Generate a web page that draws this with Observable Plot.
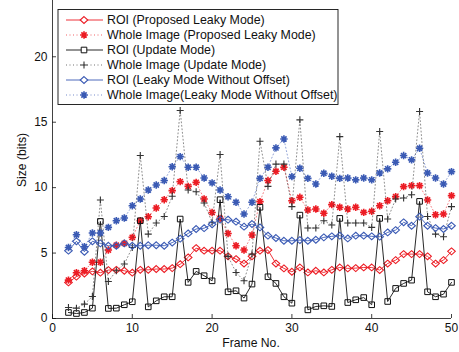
<!DOCTYPE html>
<html><head><meta charset="utf-8">
<script src="https://cdn.jsdelivr.net/npm/d3@7"></script>
<script src="https://cdn.jsdelivr.net/npm/@observablehq/plot@0.6"></script>
<style>
html,body{margin:0;padding:0;background:#fff}
svg{font-family: Arial, "Liberation Sans", Helvetica, sans-serif}
</style>
</head><body><div id="chart"></div>
<script>
const frames = d3.range(2, 51);
const xTicks = [0, 10, 20, 30, 40, 50];
const yTicks = [0, 5, 10, 15, 20];
const roiLeaky = [2.76,3.2,3.44,3.6,3.5,3.7,3.72,3.65,3.5,3.72,3.72,3.78,3.78,3.85,4.15,4.67,5.38,5.18,5.18,5.18,4.75,4.54,4.2,4.75,5.18,5.23,4.2,3.83,3.57,3.9,3.52,3.65,3.52,3.72,3.9,3.83,3.85,3.9,3.9,3.7,4.2,4.46,4.92,4.92,4.92,4.75,4.2,4.46,5.13];
const wholeLeaky = [2.93,3.5,3.65,4.3,4.3,5.23,5.6,5.74,6.2,7.47,7.78,8.44,9.08,9.77,10.46,10.1,10.4,9.13,8.1,7.65,6.5,5.56,5.23,6.38,8.93,10.54,11.25,11.56,9.0,9.26,8.29,8.37,8.04,8.7,8.5,8.37,8.5,8.11,8.19,8.62,9.0,9.31,10.08,10.15,10.15,9.06,7.93,7.98,9.39];
const roiUpdate = [0.46,0.38,0.46,0.79,7.42,0.77,0.79,1.05,1.28,7.47,0.89,1.35,1.66,1.66,7.6,2.76,3.6,3.27,2.88,9.08,2.04,2.12,1.56,2.63,8.5,3.19,2.68,1.66,1.17,7.9,0.66,0.92,0.97,0.92,7.65,1.22,1.43,1.6,1.05,7.65,1.3,2.3,2.68,2.93,8.95,2.04,1.66,1.86,2.76];
const wholeUpdate = [0.84,0.79,1.1,1.68,9.06,2.83,3.65,4.16,5.43,12.45,6.45,7.3,7.8,9.34,15.9,9.82,9.69,8.83,7.35,12.53,4.75,3.52,2.88,4.92,13.55,10.1,11.8,11.8,8.55,15.18,6.91,6.91,7.47,7.14,13.9,7.3,7.3,7.3,6.96,14.29,7.6,9.13,9.21,9.46,15.82,7.8,6.45,6.25,8.55];
const roiNoOffset = [5.18,5.9,5.1,5.9,5.74,5.56,5.56,5.74,5.56,5.56,5.6,5.6,5.56,5.8,6.1,6.5,6.84,6.9,7.2,7.55,7.55,7.4,7.02,7.22,6.96,6.33,6.15,5.94,5.94,5.99,5.94,6.02,6.2,6.28,6.33,6.12,6.33,6.33,6.28,6.25,6.58,6.76,7.35,7.09,7.78,7.09,6.91,6.84,7.09];
const wholeNoOffset = [5.43,6.4,5.48,6.53,6.53,6.96,7.47,7.68,8.62,9.13,9.82,10.2,10.54,11.6,12.37,11.56,11.56,10.74,10.36,9.82,9.3,8.88,7.98,8.88,10.71,11.56,13.04,13.72,10.84,11.48,10.71,10.28,11.1,10.87,10.71,10.74,10.59,10.74,10.59,11.12,11.43,11.94,12.45,12.12,13.01,11.12,10.74,10.28,11.22];
const seriesNames = [
  "ROI (Proposed Leaky Mode)",
  "Whole Image (Proposed Leaky Mode)",
  "ROI (Update Mode)",
  "Whole Image (Update Mode)",
  "ROI (Leaky Mode Without Offset)",
  "Whole Image(Leaky Mode Without Offset)"
];

const RED = "#ec1c24", BLUE = "#3a5ab4", BLACK = "#111111";

const radius = s => Math.sqrt(s / Math.PI);
const asterisk = {draw(c, s) { const r = radius(s), d = r * Math.SQRT1_2;
  c.moveTo(-r, 0); c.lineTo(r, 0); c.moveTo(0, -r); c.lineTo(0, r);
  c.moveTo(-d, -d); c.lineTo(d, d); c.moveTo(-d, d); c.lineTo(d, -d); }};
const plus = {draw(c, s) { const r = radius(s);
  c.moveTo(-r, 0); c.lineTo(r, 0); c.moveTo(0, -r); c.lineTo(0, r); }};
const diamond = {draw(c, s) { const r = radius(s), h = r * 0.9;
  c.moveTo(0, -h); c.lineTo(r, 0); c.lineTo(0, h); c.lineTo(-r, 0); c.closePath(); }};
const square = {draw(c, s) { const r = radius(s) * 0.8; c.rect(-r, -r, 2 * r, 2 * r); }};

const series = [
  {values: roiLeaky, color: RED, dash: null, symbol: diamond, r: 3.8, sw: 1.1, lw: 0.9},
  {values: wholeLeaky, color: RED, dash: "1,2.5", symbol: asterisk, r: 3.7, sw: 1.6, lw: 0.7},
  {values: roiUpdate, color: BLACK, dash: null, symbol: square, r: 3.5, sw: 1.0, lw: 0.9},
  {values: wholeUpdate, color: "#333", dash: "1,2.5", symbol: plus, r: 3.5, sw: 1.1, lw: 0.7},
  {values: roiNoOffset, color: BLUE, dash: null, symbol: diamond, r: 3.8, sw: 1.1, lw: 0.9},
  {values: wholeNoOffset, color: BLUE, dash: "1,2.5", symbol: asterisk, r: 3.7, sw: 1.6, lw: 0.7}
];
series.forEach((s, i) => { s.name = seriesNames[i]; s.data = frames.map((f, j) => ({frame: f, size: s.values[j]})); });

const marks = [];
for (const s of series) {
  marks.push(Plot.line(s.data, {x: "frame", y: "size", stroke: s.color, strokeWidth: s.lw, strokeDasharray: s.dash, strokeOpacity: s.dash ? 0.8 : 1}));
  marks.push(Plot.dot(s.data, {x: "frame", y: "size", symbol: s.symbol, r: s.r, stroke: s.color, fill: "none", strokeWidth: s.sw}));
}

const plot = Plot.plot({
  width: 459,
  height: 352,
  marginLeft: 52,
  marginRight: 8,
  marginTop: 0,
  marginBottom: 34,
  style: {fontSize: "12px", fontFamily: "Arial, 'Liberation Sans', Helvetica, sans-serif", color: "#111"},
  x: {domain: [0, 50], label: null},
  y: {domain: [0, 24.3], label: null},
  marks: [
    Plot.axisX({ticks: xTicks, tickSize: 0, tickPadding: 5, label: null, fill: "#111"}),
    Plot.axisY({ticks: yTicks, tickSize: 0, tickPadding: 5, label: null, fill: "#111"}),
    Plot.tickX(xTicks, {x: d => d, stroke: "#111", strokeWidth: 0.8, insetTop: 318 - 4}),
    Plot.tickY(yTicks, {y: d => d, stroke: "#111", strokeWidth: 0.8, insetRight: 399 - 4}),
    ...marks,
    Plot.ruleX([0], {stroke: "#111", strokeWidth: 0.8}),
    Plot.ruleY([0], {stroke: "#111", strokeWidth: 0.8})
  ]
});

const svg = d3.select(plot);
svg.append("text").attr("x", 251).attr("y", 347).attr("text-anchor", "middle")
  .attr("font-size", 12.2).attr("fill", "#111").text("Frame No.");
svg.append("text").attr("transform", "translate(26,160) rotate(-90)").attr("text-anchor", "middle")
  .attr("font-size", 12.2).attr("fill", "#111").text("Size (bits)");

const lg = svg.append("g").attr("text-anchor", "start");
lg.append("rect").attr("x", 58).attr("y", 9.5).attr("width", 280).attr("height", 95)
  .attr("fill", "#fff").attr("stroke", "#111").attr("stroke-width", 0.9);
series.forEach((s, i) => {
  const y = 20 + i * 15;
  lg.append("line").attr("x1", 66).attr("x2", 103).attr("y1", y).attr("y2", y)
    .attr("stroke", s.color).attr("stroke-width", s.lw).attr("stroke-dasharray", s.dash);
  lg.append("path").attr("transform", `translate(84,${y})`)
    .attr("d", d3.symbol(s.symbol, Math.PI * s.r * s.r)())
    .attr("fill", "#fff").attr("stroke", s.color).attr("stroke-width", s.sw);
  lg.append("text").attr("x", 107).attr("y", y).attr("dy", "0.35em").attr("text-anchor", "start")
    .attr("font-size", 12.4).attr("fill", "#111").text(s.name);
});

document.getElementById("chart").appendChild(plot);
</script>
</body></html>
